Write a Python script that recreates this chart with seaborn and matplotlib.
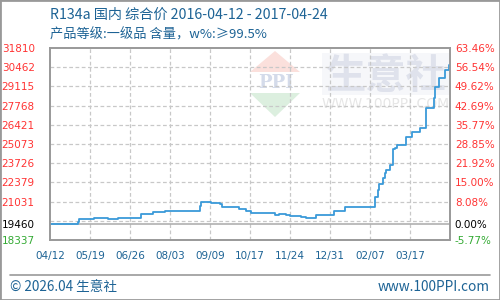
import numpy as np
import pandas as pd
import matplotlib
matplotlib.use('Agg')
import matplotlib.pyplot as plt
import seaborn as sns
from matplotlib.patches import Polygon, Rectangle
from matplotlib.lines import Line2D

# ---- data ----
dates = ['2016-04-12', '2016-05-08', '2016-05-09', '2016-05-23', '2016-06-06', '2016-06-15',
         '2016-07-07', '2016-07-18', '2016-07-29', '2016-08-31', '2016-09-01', '2016-09-11',
         '2016-09-19', '2016-09-21', '2016-10-07', '2016-10-14', '2016-10-18', '2016-11-10',
         '2016-11-14', '2016-11-20', '2016-11-24', '2016-12-05', '2016-12-09', '2016-12-19',
         '2017-01-05', '2017-01-15', '2017-02-12', '2017-02-15', '2017-02-16', '2017-02-20',
         '2017-02-22', '2017-02-23', '2017-02-26', '2017-03-01', '2017-03-03', '2017-03-05',
         '2017-03-14', '2017-03-19', '2017-03-27', '2017-04-01', '2017-04-09', '2017-04-10',
         '2017-04-14', '2017-04-19', '2017-04-23', '2017-04-24']
prices = [19460, 19620, 19830, 19900, 19830, 19900,
          20140, 20320, 20390, 20740, 20980, 20910,
          20840, 20630, 20490, 20370, 20210, 20090,
          20160, 20090, 20000, 19930, 19900, 20090,
          20390, 20630, 21380, 21850, 22250, 22670,
          23020, 23250, 23600, 24720, 24810, 25000,
          25590, 25940, 26170, 27580, 28280, 29090,
          29680, 30300, 30620, 30620]

x_labels = ['04/12', '05/19', '06/26', '08/03', '09/09', '10/17', '11/24', '12/31', '02/07', '03/17']
left_values = [18337, 19460, 21031, 22379, 23726, 25073, 26421, 27768, 29115, 30462, 31810]
left_labels = ['18337', '19460', '21031', '22379', '23726', '25073', '26421', '27768', '29115', '30462', '31810']
right_labels = ['-5.77%', '0.00%', '8.08%', '15.00%', '21.92%', '28.85%', '35.77%', '42.69%',
                '49.62%', '56.54%', '63.46%']
base_price = 19460
title1 = 'R134a 国内 综合价 2016-04-12 - 2017-04-24'
title2 = '产品等级:一级品 含量，w%:≥99.5%'
footer_left = '© 2026.04 生意社'
footer_right = 'www.100PPI.com'

# ---- style ----
sns.set_theme(style='white')
plt.rcParams['font.family'] = ['DejaVu Sans', 'Noto Sans CJK SC']
CJK = ['Noto Sans CJK SC', 'DejaVu Sans']
BLUE_TXT = '#1d6395'
RED = '#ff3333'
GREEN = '#33aa33'
GRID = '#c8c8c8'
SPINE = '#999999'

W, H = 500, 300
fig = plt.figure(figsize=(5, 3), dpi=100)
fig.patch.set_facecolor('white')


def fp(x, y):
    return (x / W, 1 - y / H)


ax = fig.add_axes([50 / W, 1 - 240 / H, 400 / W, 192 / H])
ax.set_facecolor('none')

df = pd.DataFrame({'date': pd.to_datetime(dates), 'price': prices})
sns.lineplot(data=df, x='date', y='price', drawstyle='steps-post', color='#3a9ad9',
             linewidth=1.3, ax=ax, zorder=5)

ymin, ymax = left_values[0], left_values[-1]
start, end = pd.Timestamp(dates[0]), pd.Timestamp(dates[-1])
ax.set_ylim(ymin, ymax)
ax.set_xlim(start, end)

for v in np.linspace(ymin, ymax, 11)[1:-1]:
    ax.axhline(v, color=GRID, lw=0.9, ls=(0, (3, 2)), zorder=1)
xt = [start + (end - start) * k / 10 for k in range(10)]
for t in xt[1:]:
    ax.axvline(t, color=GRID, lw=0.9, ls=(0, (3, 2)), zorder=1)
ax.axhline(base_price, color='#aaaaaa', lw=1.1, zorder=2)

ax.set_xticks(xt)
ax.set_xticklabels(x_labels, fontsize=7.5, color=BLUE_TXT, family='DejaVu Sans')
ax.set_yticks(left_values)
ax.set_yticklabels(left_labels, fontsize=7.5, family='DejaVu Sans')
for lbl, v in zip(ax.get_yticklabels(), left_values):
    lbl.set_color('black' if v == base_price else (GREEN if v == ymin else RED))
ax.tick_params(axis='both', length=0)
ax.tick_params(axis='y', pad=11)
ax.tick_params(axis='x', pad=8)
ax.set_xlabel('')
ax.set_ylabel('')
for s in ax.spines.values():
    s.set_color(SPINE)
    s.set_linewidth(1.2)

ax2 = ax.twinx()
ax2.set_ylim(ymin, ymax)
ax2.set_yticks(left_values)
ax2.set_yticklabels(right_labels, fontsize=7.5, family='DejaVu Sans')
for lbl, v in zip(ax2.get_yticklabels(), left_values):
    lbl.set_color('black' if v == base_price else (GREEN if v == ymin else RED))
ax2.tick_params(axis='y', length=0, pad=3.5)
for s in ax2.spines.values():
    s.set_color(SPINE)
    s.set_linewidth(1.2)

# ---- watermark ----
fig.patches.append(Polygon([fp(275, 51), fp(300, 72), fp(250, 72)], closed=True,
                           transform=fig.transFigure, facecolor='#fbe0dc', edgecolor='none', zorder=-2))
fig.patches.append(Polygon([fp(250, 93), fp(300, 93), fp(275, 117)], closed=True,
                           transform=fig.transFigure, facecolor='#dcefdf', edgecolor='none', zorder=-2))
fig.text(*fp(276, 83), 'PPI', fontsize=13, fontweight='bold', family='DejaVu Serif',
         color='#d4dbea', ha='center', va='center', zorder=-1)
fig.patches.append(Rectangle(fp(322, 95), 128 / W, 42 / H, transform=fig.transFigure,
                             facecolor='#f6f7fa', edgecolor='none', zorder=-2))
fig.text(*fp(386, 77), '生意社', fontsize=29, fontweight='bold', family=CJK,
         color='#dfe2ec', ha='center', va='center', zorder=-1)
fig.text(*fp(386, 104), 'WWW.100PPI.COM', fontsize=10, family='DejaVu Sans',
         color='#e6e6e6', ha='center', va='center', zorder=-1)

# ---- titles & footer ----
fig.text(*fp(50, 15), title1, fontsize=10.2, family=CJK, color=BLUE_TXT, ha='left', va='center')
fig.text(*fp(50, 35), title2, fontsize=9.5, family=CJK, color=BLUE_TXT, ha='left', va='center')
fig.lines.append(Line2D([10 / W, 490 / W], [1 - 275 / H, 1 - 275 / H], transform=fig.transFigure,
                        color=SPINE, lw=1.2))
fig.text(*fp(10, 287), footer_left, fontsize=9.8, family=CJK, color=BLUE_TXT, ha='left', va='center')
fig.text(*fp(490, 287), footer_right, fontsize=9.8, family=CJK, color=BLUE_TXT, ha='right', va='center')
fig.patches.append(Rectangle((0, 0), 1, 1, transform=fig.transFigure, fill=False,
                             edgecolor=SPINE, lw=2, zorder=10))

fig.savefig('out.png', dpi=100)
